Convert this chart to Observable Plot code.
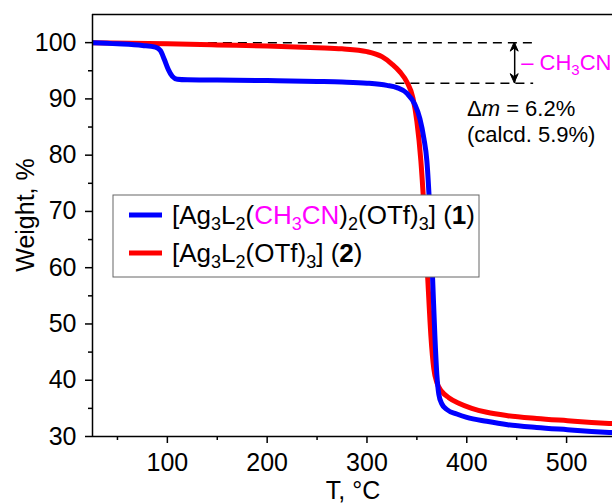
<!DOCTYPE html>
<html>
<head>
<meta charset="utf-8">
<script src="https://cdn.jsdelivr.net/npm/d3@7"></script>
<script src="https://cdn.jsdelivr.net/npm/@observablehq/plot@0.6"></script>
<style>
  html, body { margin: 0; padding: 0; background: #fff; }
  #chart { width: 612px; height: 504px; }
</style>
</head>
<body>
<div id="chart"></div>
<script>
// Compound 1: [Ag3L2(CH3CN)2(OTf)3]  (T in °C, weight in %)
const T1 = [25, 50, 75, 88, 93, 97, 101, 105, 110, 120, 150, 200, 250, 275, 300, 320, 330, 340, 348, 353, 357, 360, 363, 366, 368, 370, 372, 375, 380, 390, 400, 420, 441, 470, 501, 525, 546];
const W1 = [100.0, 99.8, 99.5, 99.2, 98.6, 97.0, 95.2, 94.0, 93.5, 93.4, 93.35, 93.25, 93.1, 93.0, 92.8, 92.4, 92.0, 91.0, 89.0, 86.5, 83.0, 79.0, 70.0, 57.0, 48.0, 41.0, 37.5, 35.8, 34.8, 34.0, 33.4, 32.7, 32.1, 31.6, 31.2, 30.9, 30.7];
// Compound 2: [Ag3L2(OTf)3]
const T2 = [25, 100, 150, 200, 250, 275, 300, 315, 325, 333, 340, 346, 350, 354, 357, 361, 364, 367, 370, 375, 382, 392, 405, 420, 441, 470, 501, 525, 546];
const W2 = [100.0, 99.8, 99.6, 99.4, 99.1, 98.9, 98.4, 97.5, 96.2, 94.8, 93.0, 90.2, 86.0, 79.0, 71.0, 57.7, 48.0, 42.0, 39.6, 38.0, 36.9, 35.9, 35.0, 34.3, 33.7, 33.2, 32.8, 32.5, 32.3];

const xMajor = [100, 200, 300, 400, 500];
const xMinor = [50, 150, 250, 350, 450];
const yMajor = [30, 40, 50, 60, 70, 80, 90, 100];
const yMinor = [35, 45, 55, 65, 75, 85, 95];

// annotation: mass loss of CH3CN
const dashY = [100, 92.8];
const dashX1 = [96, 329];
const dashX2 = [467, 467];
const arrowT = 448;

const series1 = T1.map((t, i) => ({T: t, w: W1[i]}));
const series2 = T2.map((t, i) => ({T: t, w: W2[i]}));
const dashes = dashY.map((y, i) => ({y, x1: dashX1[i], x2: dashX2[i]}));

const FONT = "Arial, 'Liberation Sans', sans-serif";

const chart = Plot.plot({
  width: 612,
  height: 504,
  marginLeft: 92,
  marginRight: 0,
  marginTop: 14,
  marginBottom: 68,
  style: {fontFamily: FONT, color: "black", background: "white", overflow: "visible"},
  x: {domain: [25, 546]},
  y: {domain: [30, 105]},
  marks: [
    Plot.axisX({ticks: xMajor, tickSize: 7, tickPadding: 10, fontSize: 25, label: null, strokeWidth: 1.5}),
    Plot.axisX({ticks: xMinor, tickSize: 4, tickFormat: () => "", label: null, strokeWidth: 1.5}),
    Plot.axisY({ticks: yMajor, tickSize: 7, tickPadding: 9, fontSize: 25, label: null, strokeWidth: 1.5}),
    Plot.axisY({ticks: yMinor, tickSize: 4, tickFormat: () => "", label: null, strokeWidth: 1.5}),
    Plot.ruleY(dashes, {y: "y", x1: "x1", x2: "x2", stroke: "black", strokeWidth: 1.5, strokeDasharray: "9,6"}),
    Plot.link([0], {x1: arrowT, x2: arrowT, y1: dashY[0], y2: dashY[1], stroke: "black", strokeWidth: 1.5, insetTop: 0}),
    Plot.line(series2, {x: "T", y: "w", stroke: "#FF0000", strokeWidth: 5, curve: "monotone-x", clip: true}),
    Plot.line(series1, {x: "T", y: "w", stroke: "#0000FF", strokeWidth: 5, curve: "monotone-x", clip: true}),
    Plot.ruleX([25], {stroke: "black", strokeWidth: 1.5}),
    Plot.ruleY([30], {stroke: "black", strokeWidth: 1.5}),
    Plot.ruleY([105], {stroke: "black", strokeWidth: 1.5})
  ]
});

document.getElementById("chart").appendChild(chart);

const svg = d3.select(chart);
const xs = chart.scale("x"), ys = chart.scale("y");

// filled arrowheads for the double arrow
const ax = xs.apply(arrowT), ay1 = ys.apply(dashY[0]), ay2 = ys.apply(dashY[1]);
svg.append("path").attr("d", `M${ax},${ay1} l-4,9 l4,-3 l4,3 z`).attr("fill", "black").attr("stroke", "black").attr("stroke-width", 1);
svg.append("path").attr("d", `M${ax},${ay2} l-4,-9 l4,3 l4,-3 z`).attr("fill", "black").attr("stroke", "black").attr("stroke-width", 1);

// helper to write rich text with subscripts
function rich(t, parts, size) {
  t.attr("text-anchor", "start");
  const off = size * 0.22;
  parts.forEach((p, i) => {
    const s = t.append("tspan").text(p.t);
    if (p.c) s.attr("fill", p.c);
    if (p.b) s.attr("font-weight", "bold");
    if (p.i) s.attr("font-style", "italic");
    const prevSub = i > 0 && parts[i - 1].sub;
    if (p.sub) {
      s.attr("font-size", Math.round(size * 0.68));
      if (!prevSub) s.attr("dy", off);
    } else if (prevSub) {
      s.attr("dy", -off);
    }
  });
  return t;
}

// axis titles
svg.append("text").attr("x", 0).attr("y", 0)
  .attr("transform", "translate(34,215) rotate(-90)")
  .attr("text-anchor", "middle").attr("font-size", 25).attr("font-family", FONT).attr("fill", "black")
  .text("Weight, %");
svg.append("text").attr("x", 353).attr("y", 499)
  .attr("text-anchor", "middle").attr("font-size", 25).attr("font-family", FONT).attr("fill", "black")
  .text("T, °C");

// legend
const lg = svg.append("g").attr("font-family", FONT).attr("text-anchor", "start");
lg.append("rect").attr("x", 113).attr("y", 195).attr("width", 366).attr("height", 82)
  .attr("fill", "white").attr("stroke", "#666").attr("stroke-width", 1);
lg.append("line").attr("x1", 129).attr("x2", 162).attr("y1", 215).attr("y2", 215).attr("stroke", "#0000FF").attr("stroke-width", 5);
lg.append("line").attr("x1", 129).attr("x2", 162).attr("y1", 253).attr("y2", 253).attr("stroke", "#FF0000").attr("stroke-width", 5);
const MAG = "#FF00FF";
rich(lg.append("text").attr("x", 172).attr("y", 224).attr("font-size", 26).attr("fill", "black"), [
  {t: "[Ag"}, {t: "3", sub: true}, {t: "L"}, {t: "2", sub: true}, {t: "("},
  {t: "CH", c: MAG}, {t: "3", sub: true, c: MAG}, {t: "CN", c: MAG},
  {t: ")"}, {t: "2", sub: true}, {t: "(OTf)"}, {t: "3", sub: true}, {t: "] ("}, {t: "1", b: true}, {t: ")"}
], 26);
rich(lg.append("text").attr("x", 172).attr("y", 262).attr("font-size", 26).attr("fill", "black"), [
  {t: "[Ag"}, {t: "3", sub: true}, {t: "L"}, {t: "2", sub: true}, {t: "(OTf)"}, {t: "3", sub: true},
  {t: "] ("}, {t: "2", b: true}, {t: ")"}
], 26);

// annotation texts
const an = svg.append("g").attr("font-family", FONT).attr("font-size", 22).attr("text-anchor", "start");
rich(an.append("text").attr("x", ax + 7).attr("y", 70).attr("fill", MAG), [
  {t: "– CH"}, {t: "3", sub: true}, {t: "CN"}
], 22);
rich(an.append("text").attr("x", 467).attr("y", 116).attr("fill", "black"), [
  {t: "Δ"}, {t: "m", i: true}, {t: " = 6.2%"}
], 22);
an.append("text").attr("x", 467).attr("y", 142).attr("fill", "black").text("(calcd. 5.9%)");
</script>
</body>
</html>
